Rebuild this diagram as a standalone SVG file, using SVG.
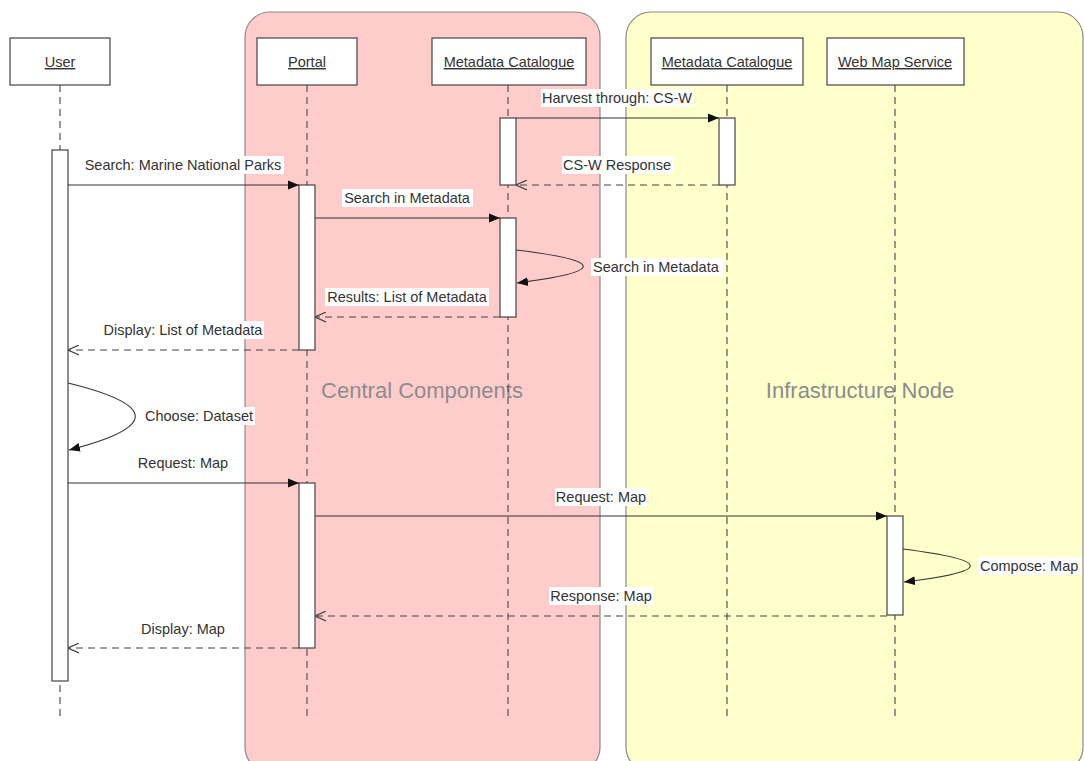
<svg xmlns="http://www.w3.org/2000/svg" width="1084" height="761" viewBox="0 0 1084 761">
<defs>
<style>
.frame{stroke:#8a8a8a;stroke-width:1.2}
.head rect{fill:#fff;stroke:#444;stroke-width:1.2}
.head text{font-family:"Liberation Sans",Arial,sans-serif;font-size:14.5px;fill:#333;text-anchor:middle;text-decoration:underline}
.life{stroke:#555;stroke-width:1.2;stroke-dasharray:7,5;fill:none}
.act{fill:#fff;stroke:#444;stroke-width:1.2}
.msg{stroke:#333;stroke-width:1.1;fill:none}
.ret{stroke:#444;stroke-width:1.1;fill:none;stroke-dasharray:7,5}
.lbl{font-family:"Liberation Sans",Arial,sans-serif;font-size:14.5px;fill:#333}
.bg{fill:#fff}
.ftxt{font-family:"Liberation Sans",Arial,sans-serif;font-size:22px;fill:#8c8c8c;text-anchor:middle}
</style>
<marker id="fill" viewBox="0 0 10 10" refX="10" refY="5" markerWidth="11" markerHeight="11" orient="auto" markerUnits="userSpaceOnUse"><path d="M0,1 L10,5 L0,9 z" fill="#111"/></marker>
<marker id="open" viewBox="0 0 10 10" refX="10" refY="5" markerWidth="11" markerHeight="11" orient="auto" markerUnits="userSpaceOnUse"><path d="M0,0.5 L10,5 L0,9.5" fill="none" stroke="#444" stroke-width="1.1"/></marker>
</defs>
<rect width="1084" height="761" fill="#fff"/>
<g id="frame-central">
<rect class="frame" x="245" y="12" width="355" height="760" rx="25" fill="#ffcccc"/>
<text class="ftxt" x="422" y="398">Central Components</text>
</g>
<g id="frame-infra">
<rect class="frame" x="626" y="12" width="457" height="760" rx="25" fill="#ffffcc"/>
<text class="ftxt" x="860" y="398">Infrastructure Node</text>
</g>
<g id="lifelines">
<line class="life" x1="60" y1="85" x2="60" y2="717"/>
<line class="life" x1="307" y1="85" x2="307" y2="717"/>
<line class="life" x1="508" y1="85" x2="508" y2="717"/>
<line class="life" x1="727" y1="85" x2="727" y2="717"/>
<line class="life" x1="895" y1="85" x2="895" y2="717"/>
</g>
<g id="user" class="head"><rect x="10" y="38" width="100" height="47"/><text x="60" y="67">User</text></g>
<g id="portal" class="head"><rect x="257" y="38" width="100" height="47"/><text x="307" y="67">Portal</text></g>
<g id="catalogue-central" class="head"><rect x="432" y="38" width="154" height="47"/><text x="509" y="67">Metadata Catalogue</text></g>
<g id="catalogue-infra" class="head"><rect x="651" y="38" width="152" height="47"/><text x="727" y="67">Metadata Catalogue</text></g>
<g id="wms" class="head"><rect x="827" y="38" width="137" height="47"/><text x="895" y="67">Web Map Service</text></g>
<g id="activations">
<rect class="act" x="52" y="150" width="16" height="531"/>
<rect class="act" x="299" y="185" width="16" height="165"/>
<rect class="act" x="299" y="483" width="16" height="165"/>
<rect class="act" x="500" y="118" width="16" height="67"/>
<rect class="act" x="500" y="218" width="16" height="99"/>
<rect class="act" x="719" y="118" width="16" height="67"/>
<rect class="act" x="887" y="516" width="16" height="99"/>
</g>
<g id="connectors">
<line class="msg" x1="516" y1="118" x2="719" y2="118" marker-end="url(#fill)"/>
<line class="ret" x1="719" y1="185" x2="516" y2="185" marker-end="url(#open)"/>
<line class="msg" x1="68" y1="185" x2="299" y2="185" marker-end="url(#fill)"/>
<line class="msg" x1="315" y1="218" x2="500" y2="218" marker-end="url(#fill)"/>
<path class="msg" d="M516,250 Q650,266 517,283" marker-end="url(#fill)"/>
<line class="ret" x1="500" y1="317" x2="315" y2="317" marker-end="url(#open)"/>
<line class="ret" x1="299" y1="350" x2="68" y2="350" marker-end="url(#open)"/>
<path class="msg" d="M68,383 Q202,416 69,450" marker-end="url(#fill)"/>
<line class="msg" x1="68" y1="483" x2="299" y2="483" marker-end="url(#fill)"/>
<line class="msg" x1="315" y1="516" x2="887" y2="516" marker-end="url(#fill)"/>
<path class="msg" d="M903,549 Q1037,566 904,582" marker-end="url(#fill)"/>
<line class="ret" x1="887" y1="616" x2="315" y2="616" marker-end="url(#open)"/>
<line class="ret" x1="299" y1="648" x2="68" y2="648" marker-end="url(#open)"/>
</g>
<g id="labels">
<rect class="bg" x="541" y="89" width="153" height="18"/><text class="lbl" x="617" y="103" text-anchor="middle">Harvest through: CS-W</text>
<rect class="bg" x="562" y="156" width="111" height="18"/><text class="lbl" x="617" y="170" text-anchor="middle">CS-W Response</text>
<rect class="bg" x="82" y="156" width="202" height="18"/><text class="lbl" x="183" y="170" text-anchor="middle">Search: Marine National Parks</text>
<rect class="bg" x="342" y="189" width="131" height="18"/><text class="lbl" x="407" y="203" text-anchor="middle">Search in Metadata</text>
<rect class="bg" x="591" y="258" width="132" height="18"/><text class="lbl" x="593" y="272">Search in Metadata</text>
<rect class="bg" x="325" y="288" width="164" height="18"/><text class="lbl" x="407" y="302" text-anchor="middle">Results: List of Metadata</text>
<rect class="bg" x="102" y="321" width="162" height="18"/><text class="lbl" x="183" y="335" text-anchor="middle">Display: List of Metadata</text>
<rect class="bg" x="143" y="407" width="112" height="18"/><text class="lbl" x="145" y="421">Choose: Dataset</text>
<rect class="bg" x="137" y="454" width="93" height="18"/><text class="lbl" x="183" y="468" text-anchor="middle">Request: Map</text>
<rect class="bg" x="555" y="488" width="93" height="18"/><text class="lbl" x="601" y="502" text-anchor="middle">Request: Map</text>
<rect class="bg" x="978" y="557" width="104" height="18"/><text class="lbl" x="980" y="571">Compose: Map</text>
<rect class="bg" x="549" y="587" width="104" height="18"/><text class="lbl" x="601" y="601" text-anchor="middle">Response: Map</text>
<rect class="bg" x="141" y="620" width="85" height="18"/><text class="lbl" x="183" y="634" text-anchor="middle">Display: Map</text>
</g>
</svg>
